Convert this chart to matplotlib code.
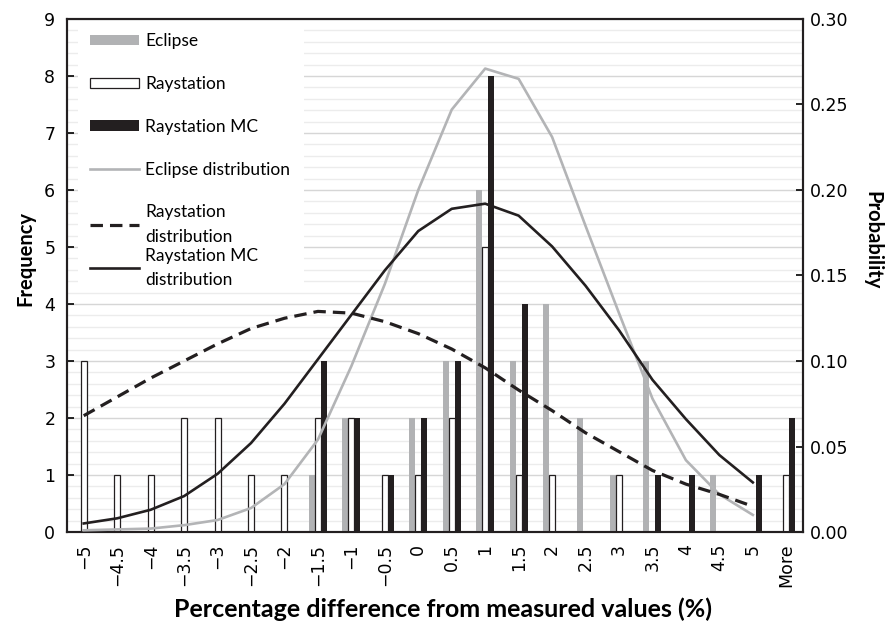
import matplotlib
matplotlib.use("Agg")
import matplotlib.pyplot as plt
import numpy as np
from matplotlib.lines import Line2D
from matplotlib.patches import Patch, Rectangle
from matplotlib.ticker import MultipleLocator, FormatStrFormatter

categories = ["−5", "−4.5", "−4", "−3.5", "−3", "−2.5", "−2", "−1.5", "−1", "−0.5",
              "0", "0.5", "1", "1.5", "2", "2.5", "3", "3.5", "4", "4.5", "5", "More"]

eclipse = [0, 0, 0, 0, 0, 0, 0, 1, 2, 0, 2, 3, 6, 3, 4, 2, 1, 3, 0, 1, 0, 0]
raystation = [3, 1, 1, 2, 2, 1, 1, 2, 2, 1, 1, 2, 5, 1, 1, 0, 1, 0, 0, 0, 0, 1]
raystation_mc = [0, 0, 0, 0, 0, 0, 0, 3, 2, 1, 2, 3, 8, 4, 0, 0, 0, 1, 1, 0, 1, 2]

# distributions at categories -5 ... 5 (no "More")
eclipse_dist = [0.001, 0.0015, 0.002, 0.004, 0.007, 0.014, 0.028, 0.054, 0.097, 0.145,
                0.200, 0.247, 0.271, 0.265, 0.231, 0.179, 0.128, 0.078, 0.042, 0.022, 0.010]
raystation_dist = [0.068, 0.079, 0.090, 0.100, 0.110, 0.119, 0.125, 0.129, 0.128, 0.123,
                   0.116, 0.107, 0.096, 0.083, 0.071, 0.058, 0.047, 0.036, 0.028, 0.022, 0.015]
raystation_mc_dist = [0.005, 0.008, 0.013, 0.021, 0.034, 0.052, 0.075, 0.101, 0.127, 0.153,
                      0.176, 0.189, 0.192, 0.185, 0.167, 0.144, 0.118, 0.089, 0.066, 0.045, 0.029]

GRAY = "#b1b2b4"
BLACK = "#231f20"
LINEGRAY = "#b3b4b6"
TICKFONT = "DejaVu Sans"
TICKSIZE = 12.5

fig = plt.figure(figsize=(8.88, 6.29), dpi=100)
ax = fig.add_axes([67/888, 1-532/629, 736/888, 513/629])

x = np.arange(len(categories))
w = 0.18

ax.bar(x - w, eclipse, width=w, color=GRAY, zorder=3)
ax.bar(x, raystation, width=w, color="white", edgecolor=BLACK, linewidth=0.9, zorder=3)
ax.bar(x + w, raystation_mc, width=w, color=BLACK, zorder=3)

ax.set_xlim(-0.5, len(categories) - 0.5)
ax.set_ylim(0, 9)
ax.yaxis.set_major_locator(MultipleLocator(1))
ax.yaxis.set_minor_locator(MultipleLocator(0.2))
ax.grid(axis="y", which="major", color="#d6d6d6", linewidth=1.0, zorder=0)
ax.grid(axis="y", which="minor", color="#ececec", linewidth=1.0, zorder=0)
ax.set_axisbelow(True)
ax.set_xticks(x)
ax.set_xticklabels(categories, rotation=90, fontsize=TICKSIZE, family=TICKFONT)
ax.tick_params(axis="x", length=0, pad=8.5)
ax.tick_params(axis="y", which="major", direction="in", length=5, width=1.2,
               labelsize=TICKSIZE, pad=8.4)
ax.tick_params(axis="y", which="minor", length=0)
for lab in ax.get_yticklabels():
    lab.set_family(TICKFONT)

for s in ax.spines.values():
    s.set_linewidth(1.5)
    s.set_color(BLACK)

ax2 = ax.twinx()
xd = x[:len(eclipse_dist)]
ax2.plot(xd, eclipse_dist, color=LINEGRAY, linewidth=1.9, zorder=4)
ax2.plot(xd, raystation_dist, color=BLACK, linewidth=2.3, linestyle=(0, (3.9, 2.2)), zorder=4)
ax2.plot(xd, raystation_mc_dist, color=BLACK, linewidth=1.9, zorder=4)
ax2.set_ylim(0, 0.30)
ax2.yaxis.set_major_locator(MultipleLocator(0.05))
ax2.yaxis.set_major_formatter(FormatStrFormatter("%.2f"))
ax2.tick_params(axis="y", direction="in", length=5, width=1.2, labelsize=TICKSIZE, pad=5)
for lab in ax2.get_yticklabels():
    lab.set_family(TICKFONT)
for s in ax2.spines.values():
    s.set_linewidth(1.5)
    s.set_color(BLACK)

ax.set_ylabel("Frequency", fontsize=14.5, fontweight="bold", family="Lato")
ax.yaxis.label.set_verticalalignment("center")
ax.yaxis.set_label_coords(-0.057, 0.534)
ax2.set_ylabel("Probability", fontsize=14.5, fontweight="bold", family="Lato", rotation=270)
ax2.yaxis.label.set_verticalalignment("center")
ax2.yaxis.label.set_rotation_mode("anchor")
ax2.yaxis.set_label_coords(1.094, 0.569)
ax.set_xlabel("Percentage difference from measured values (%)", fontsize=18, fontweight="bold",
              family="Lato")
ax.xaxis.set_label_coords(0.5115, -0.127)

# white legend background area
ax2.add_patch(Rectangle((0.015, 0.468), 0.307, 0.529, transform=ax2.transAxes,
                        facecolor="white", edgecolor="none", zorder=4.5))

handles1 = [
    Patch(facecolor=GRAY, edgecolor="none"),
    Patch(facecolor="white", edgecolor=BLACK, linewidth=0.9),
    Patch(facecolor=BLACK, edgecolor="none"),
    Line2D([], [], color=LINEGRAY, linewidth=1.9),
    Line2D([], [], color=BLACK, linewidth=2.3, linestyle=(0, (3.9, 2.2))),
]
labels1 = ["Eclipse", "Raystation", "Raystation MC", "Eclipse distribution", "Raystation\ndistribution"]
leg1 = ax2.legend(handles1, labels1, loc="upper left", bbox_to_anchor=(0.02, 0.989),
                  borderaxespad=0, frameon=False,
                  prop={"family": "Lato", "size": 12.5}, handlelength=2.8, handleheight=0.55,
                  handletextpad=0.35, labelspacing=1.54, borderpad=0.5)
for t in leg1.get_texts():
    t.set_linespacing(1.65)
ax2.add_artist(leg1)
handles2 = [Line2D([], [], color=BLACK, linewidth=1.9)]
labels2 = ["Raystation MC\ndistribution"]
leg2 = ax2.legend(handles2, labels2, loc="upper left", bbox_to_anchor=(0.02, 0.571),
                  borderaxespad=0, frameon=False,
                  prop={"family": "Lato", "size": 12.5}, handlelength=2.8,
                  handletextpad=0.35, borderpad=0.5)
for t in leg2.get_texts():
    t.set_linespacing(1.65)

fig.savefig("out.png", dpi=100)
